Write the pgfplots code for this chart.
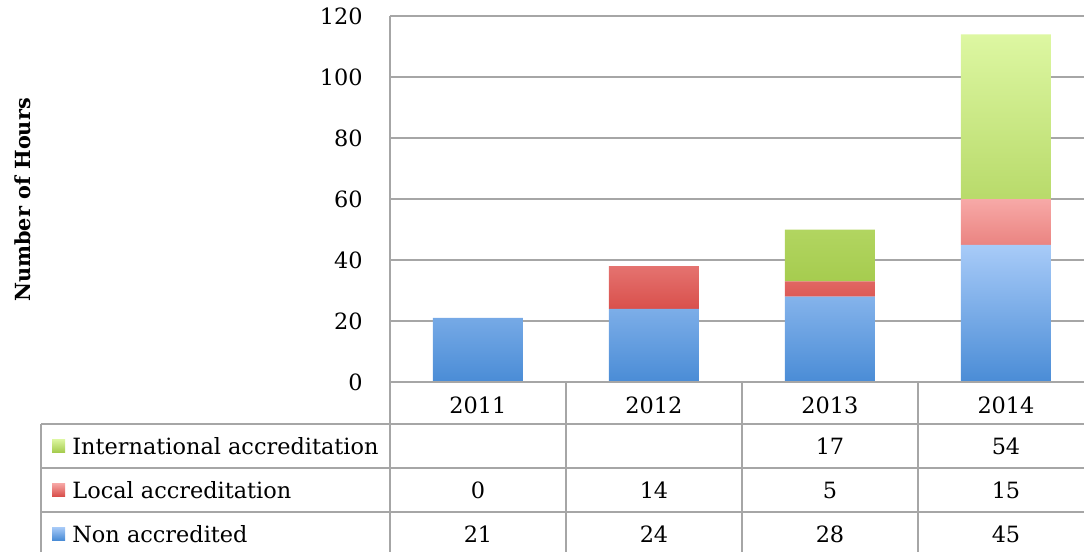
\documentclass[border=0pt]{standalone}
\usepackage{pgfplots}
\pgfplotsset{compat=1.18}
\usepackage{pgfplotstable}
\usepackage{fontspec}
\setmainfont{DejaVu Serif}
\definecolor{gridgray}{HTML}{A6A6A6}
\definecolor{blueT}{HTML}{A8CBF8}
\definecolor{blueB}{HTML}{4A8CD6}
\definecolor{redT}{HTML}{F7A9A7}
\definecolor{redB}{HTML}{D9504C}
\definecolor{greenT}{HTML}{DDF7A2}
\definecolor{greenB}{HTML}{A6CC4F}

\pgfplotstableread{
x non local intl
0 21 0 0
1 24 14 0
2 28 5 17
3 45 15 54
}\data

\begin{document}
\fontsize{11.2}{13}\selectfont
\begin{tikzpicture}
\useasboundingbox (0,0) rectangle (542pt,-276pt);
\begin{axis}[
  at={(195pt,-191pt)}, anchor=south west, scale only axis,
  width=352pt, height=183pt,
  xmin=-0.5, xmax=3.5, ymin=0, ymax=120,
  ytick={0,20,...,120}, xtick=\empty,
  ymajorgrids, grid style={gridgray, line width=1pt},
  axis line style={draw=none}, major tick length=0pt,
  yticklabel style={font=\fontsize{11.2}{13}\selectfont, anchor=east, inner sep=0pt, xshift=-13.5pt},
  /pgf/number format/assume math mode=true,
  ybar stacked, bar width=45pt,
]
\addplot[draw=none, top color=blueT, bottom color=blueB] table[x=x,y=non]{\data};
\addplot[draw=none, top color=redT, bottom color=redB] table[x=x,y=local]{\data};
\addplot[draw=none, top color=greenT, bottom color=greenB] table[x=x,y=intl]{\data};
\end{axis}
\begin{scope}[x=0.5pt, y=-0.5pt]
  \draw[gridgray, line width=1pt]
    (390,16) -- (390,560)
    (390,382) -- (1100,382)
    (41,424) -- (1100,424)
    (41,468) -- (1100,468)
    (41,512) -- (1100,512)
    (41,424) -- (41,560)
    (566,382) -- (566,560)
    (742,382) -- (742,560)
    (918,382) -- (918,560);
  \node[rotate=90, font=\bfseries\fontsize{10.4}{12}\selectfont] at (23,200) {Number of Hours};
  \foreach \xx/\yy in {478/2011, 654/2012, 830/2013, 1006/2014}
    \node at (\xx,405) {\yy};
  \shade[top color=greenT, bottom color=greenB] (52,439) rectangle (65,452);
  \shade[top color=redT, bottom color=redB] (52,483) rectangle (65,496);
  \shade[top color=blueT, bottom color=blueB] (52,527) rectangle (65,540);
  \node[anchor=west, inner sep=0pt] at (72,446) {International accreditation};
  \node[anchor=west, inner sep=0pt] at (72,490) {Local accreditation};
  \node[anchor=west, inner sep=0pt] at (72,534) {Non accredited};
  \node at (830,446) {17};
  \node at (1006,446) {54};
  \foreach \xx/\vv in {478/0, 654/14, 830/5, 1006/15}
    \node at (\xx,490) {\vv};
  \foreach \xx/\vv in {478/21, 654/24, 830/28, 1006/45}
    \node at (\xx,534) {\vv};
\end{scope}
\end{tikzpicture}
\end{document}
